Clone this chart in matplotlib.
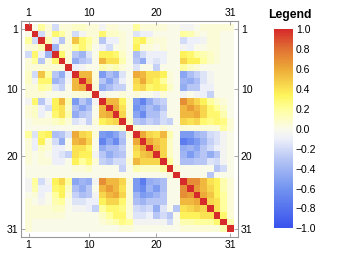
import numpy as np
import matplotlib
matplotlib.use('Agg')
import matplotlib.pyplot as plt
from matplotlib.colors import LinearSegmentedColormap

plt.rcParams['font.family'] = ['Liberation Sans', 'DejaVu Sans']

# upper triangle of the correlation matrix, row i -> columns i+1..31
upper = [
    [0.0, 0.2, 0.05, -0.2, 0.05, 0.05, 0.1, 0.1, 0.05, 0.05, -0.05, 0.05, 0.05, 0.0, 0.0, 0.2, 0.05, 0.05, 0.05, 0.05, 0.0, 0.0, -0.05, -0.05, 0.0, 0.05, 0.05, 0.05, 0.05, 0.05],
    [-0.2, 0.05, 0.3, 0.2, 0.05, -0.2, -0.05, 0.05, 0.05, 0.3, 0.1, 0.1, 0.05, 0.0, -0.15, -0.1, -0.1, 0.0, 0.0, 0.0, 0.0, 0.2, 0.15, 0.05, 0.0, 0.05, 0.05, 0.0, 0.0],
    [0.15, -0.1, -0.3, 0.05, 0.5, 0.3, 0.2, 0.05, -0.3, -0.1, -0.1, 0.05, 0.0, 0.3, 0.35, 0.1, 0.05, 0.05, 0.0, 0.0, -0.2, -0.1, -0.1, -0.05, 0.05, 0.05, 0.0, 0.0],
    [-0.4, 0.05, 0.05, 0.2, 0.3, 0.15, 0.0, -0.1, -0.2, 0.0, 0.05, 0.0, 0.35, 0.05, 0.05, 0.0, 0.05, 0.0, 0.0, -0.05, -0.1, 0.0, 0.0, 0.05, 0.05, 0.0, 0.0],
    [0.3, 0.05, -0.3, -0.4, -0.15, 0.0, 0.35, 0.35, 0.3, 0.1, 0.0, -0.35, -0.2, -0.1, -0.1, -0.1, 0.0, 0.0, 0.35, 0.3, 0.2, 0.15, 0.1, 0.05, 0.0, 0.0],
    [0.05, -0.45, -0.3, -0.25, 0.0, 0.55, 0.4, 0.4, 0.15, 0.0, -0.3, -0.45, -0.1, -0.15, -0.1, 0.0, 0.0, 0.45, 0.35, 0.35, 0.2, 0.1, 0.05, 0.0, 0.0],
    [-0.1, -0.05, 0.0, 0.0, 0.15, 0.1, 0.15, 0.05, 0.0, -0.15, 0.0, 0.0, -0.25, 0.0, 0.0, 0.0, 0.2, 0.1, 0.05, 0.0, 0.0, 0.0, 0.0, 0.0],
    [0.55, 0.55, 0.05, -0.55, -0.35, -0.45, -0.15, 0.0, 0.6, 0.55, 0.4, 0.4, 0.35, 0.05, 0.0, -0.5, -0.35, -0.25, -0.15, -0.05, 0.0, 0.0, 0.0],
    [0.6, 0.05, -0.3, -0.5, -0.3, -0.1, 0.0, 0.45, 0.6, 0.4, 0.35, 0.2, 0.05, 0.0, -0.4, -0.45, -0.35, -0.15, -0.05, 0.0, 0.0, 0.0],
    [0.05, -0.45, -0.35, -0.25, -0.25, 0.0, 0.4, 0.45, 0.3, 0.35, 0.3, 0.1, 0.0, -0.45, -0.3, -0.3, -0.1, -0.1, 0.0, 0.0, 0.0],
    [-0.05, 0.0, 0.0, 0.05, 0.0, 0.05, 0.0, 0.0, -0.05, 0.05, 0.0, 0.0, -0.05, 0.0, -0.05, -0.1, -0.25, 0.0, 0.0, 0.0],
    [0.55, 0.55, 0.35, 0.05, -0.55, -0.7, -0.45, -0.3, -0.25, 0.0, 0.0, 0.7, 0.55, 0.45, 0.35, 0.2, 0.1, 0.05, 0.0],
    [0.6, 0.4, 0.05, -0.6, -0.5, -0.35, -0.45, -0.3, 0.0, 0.0, 0.55, 0.65, 0.55, 0.45, 0.3, 0.2, 0.1, 0.0],
    [0.45, 0.05, -0.5, -0.65, -0.35, -0.35, -0.2, 0.0, 0.0, 0.55, 0.55, 0.6, 0.45, 0.3, 0.3, 0.15, 0.0],
    [0.1, -0.3, -0.35, -0.25, -0.3, -0.2, -0.25, 0.0, 0.45, 0.4, 0.45, 0.3, 0.25, 0.3, 0.25, 0.05],
    [0.05, 0.0, 0.0, 0.0, 0.05, 0.0, 0.0, 0.05, 0.05, 0.05, 0.05, 0.05, 0.05, 0.2, 0.05],
    [0.6, 0.45, 0.4, 0.55, 0.15, 0.0, -0.55, -0.55, -0.4, -0.35, -0.2, -0.15, -0.05, 0.0],
    [0.6, 0.5, 0.45, 0.1, 0.0, -0.75, -0.65, -0.55, -0.4, -0.25, -0.15, -0.05, 0.0],
    [0.55, 0.45, 0.1, 0.0, -0.45, -0.4, -0.5, -0.3, -0.2, -0.1, -0.05, 0.0],
    [0.45, 0.1, 0.0, -0.4, -0.55, -0.4, -0.3, -0.45, -0.3, -0.05, 0.0],
    [0.2, 0.0, -0.35, -0.35, -0.3, -0.3, -0.15, -0.2, -0.05, 0.0],
    [0.05, 0.0, 0.0, 0.0, 0.0, 0.0, -0.3, -0.2, 0.0],
    [0.0, 0.0, 0.0, 0.0, -0.3, 0.0, 0.0, 0.0],
    [0.7, 0.7, 0.55, 0.4, 0.35, 0.15, 0.05],
    [0.65, 0.55, 0.45, 0.35, 0.15, 0.05],
    [0.6, 0.5, 0.35, 0.2, 0.05],
    [0.45, 0.4, 0.2, 0.05],
    [0.4, 0.2, 0.05],
    [0.3, 0.05],
    [0.15],
]
tick_labels = [1, 10, 20, 31]
cbar_ticks = [1.0, 0.8, 0.6, 0.4, 0.2, 0.0, -0.2, -0.4, -0.6, -0.8, -1.0]

n = len(upper) + 1
corr = np.eye(n)
for i, row in enumerate(upper):
    for k, v in enumerate(row):
        corr[i, i + 1 + k] = v
        corr[i + 1 + k, i] = v

# colour scale like the legend: blue -> white -> yellow -> orange -> red
cmap = LinearSegmentedColormap.from_list('temp', [
    (0.00, (0.22, 0.32, 0.93)),
    (0.20, (0.45, 0.58, 0.94)),
    (0.35, (0.72, 0.78, 0.96)),
    (0.45, (0.93, 0.94, 0.98)),
    (0.50, (0.98, 0.98, 0.92)),
    (0.60, (1.00, 1.00, 0.62)),
    (0.67, (1.00, 0.96, 0.36)),
    (0.80, (0.93, 0.67, 0.22)),
    (0.90, (0.88, 0.45, 0.20)),
    (1.00, (0.84, 0.17, 0.17)),
])

fig = plt.figure(figsize=(3.37, 2.59), dpi=100)
ax = fig.add_axes([0.0614, 0.085, 0.645, 0.835])
im = ax.imshow(corr, cmap=cmap, vmin=-1, vmax=1, interpolation='nearest',
               extent=(0.5, n + 0.5, n + 0.5, 0.5), aspect='auto')
ax.set_xlim(-0.18, n + 1.18)
ax.set_ylim(n + 1.18, -0.18)

ax.set_xticks(tick_labels)
ax.set_yticks(tick_labels)
ax.set_xticklabels([str(t) for t in tick_labels])
ax.set_yticklabels([str(t) for t in tick_labels])
ax.tick_params(axis='both', which='both', direction='in', length=3, width=0.6,
               color='#999999', labelsize=7.5, pad=2,
               top=True, bottom=True, left=True, right=True,
               labeltop=True, labelbottom=True, labelleft=True, labelright=True)
for s in ax.spines.values():
    s.set_color('#999999')
    s.set_linewidth(0.8)

# legend bar
cax = fig.add_axes([0.813, 0.1185, 0.057, 0.768])
cb = fig.colorbar(im, cax=cax, ticks=cbar_ticks)
cb.outline.set_visible(False)
cax.tick_params(length=0, labelsize=7.5, pad=2)
cax.set_yticklabels(['%.1f' % t if t >= 0 else '\u2212%.1f' % abs(t) for t in cbar_ticks])
fig.text(0.861, 0.942, 'Legend', ha='center', va='center', fontsize=8.8, fontweight='bold')

fig.savefig('out.png', dpi=100)
